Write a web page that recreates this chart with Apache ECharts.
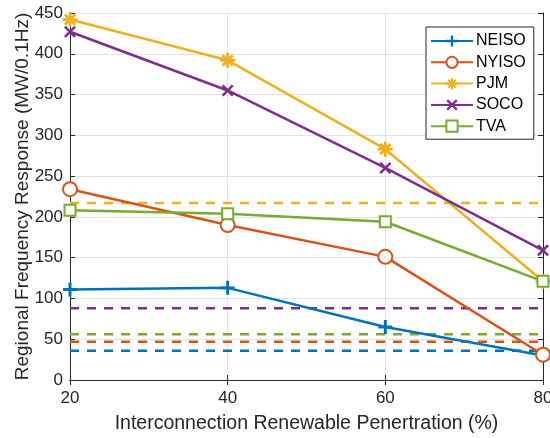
<!DOCTYPE html>
<html><head><meta charset="utf-8">
<script src="https://cdn.jsdelivr.net/npm/echarts@6/dist/echarts.min.js"></script>
<style>html,body{margin:0;padding:0;background:#fff}#c{width:550px;height:438px}</style>
</head><body><div id="c"></div>
<script>
const penetration = [20, 40, 60, 80];
const seriesNames = ['NEISO', 'NYISO', 'PJM', 'SOCO', 'TVA'];
const neiso = [111, 113, 65, 30];
const nyiso = [234, 190, 151, 31];
const pjm = [442, 392, 283, 121];
const soco = [427, 355, 260, 159];
const tva = [208, 204, 194, 121];
const thresholds = [36, 47, 217, 88, 56];
const yTicks = [0, 50, 100, 150, 200, 250, 300, 350, 400, 450];
const xTicks = [20, 40, 60, 80];

const colors = ['#0072BD', '#D95319', '#EDB120', '#7E2F8E', '#77AC30'];
const values = [neiso, nyiso, pjm, soco, tva];
const plusPath = 'path://M4.75,0H7.25V4.75H12V7.25H7.25V12H4.75V7.25H0V4.75H4.75Z';
const xPath = 'path://M0,1.8L1.8,0L12,10.2L10.2,12Z M10.2,0L12,1.8L1.8,12L0,10.2Z';
const starPath = 'path://M4.9,0H7.1V4.9H12V7.1H7.1V12H4.9V7.1H0V4.9H4.9Z M1.1,2.7L2.7,1.1L10.9,9.3L9.3,10.9Z M9.3,1.1L10.9,2.7L2.7,10.9L1.1,9.3Z';
const symbols = [plusPath, 'emptyCircle', starPath, xPath, 'emptyRect'];
const sizes = [14, 14, 15, 12, 11];

const series = [];
seriesNames.forEach((n, i) => {
  series.push({
    name: n, type: 'line',
    data: penetration.map((x, k) => [x, values[i][k]]),
    symbol: symbols[i], symbolSize: sizes[i],
    lineStyle: {color: colors[i], width: 2.5},
    itemStyle: {color: colors[i], borderColor: colors[i], borderWidth: (i === 1 || i === 4) ? 2.5 : 0},
    z: 5, animation: false
  });
});
seriesNames.forEach((n, i) => {
  series.push({
    name: n + ' limit', type: 'line',
    data: [[penetration[0], thresholds[i]], [penetration[penetration.length - 1], thresholds[i]]],
    symbol: 'none',
    lineStyle: {color: colors[i], width: 2.5, type: [9, 8]},
    z: 3, animation: false
  });
});

const axisColor = '#262626';
const font = 'Liberation Sans, Arial, sans-serif';
const chart = echarts.init(document.getElementById('c'));
chart.setOption({
  animation: false,
  grid: {left: 70, right: 7, top: 13, bottom: 58, outerBoundsMode: 'none', containLabel: false},
  legend: {
    data: seriesNames, orient: 'vertical', left: 426, top: 27,
    backgroundColor: '#fff', borderColor: axisColor, borderWidth: 1,
    padding: [6, 8, 5, 4], itemWidth: 42, itemHeight: 14, itemGap: 5.3,
    textStyle: {fontFamily: font, fontSize: 16, color: '#000', padding: [0, 0, 0, -2]}
  },
  xAxis: [{
    type: 'value', min: 20, max: 80, interval: 20,
    name: 'Interconnection Renewable Penertration (%)', nameLocation: 'middle', nameGap: 34,
    nameMoveOverlap: false,
    nameTextStyle: {fontFamily: font, fontSize: 19.5, color: axisColor},
    axisLine: {show: true, lineStyle: {color: axisColor, width: 1}},
    axisTick: {show: true, inside: true, length: 5, lineStyle: {color: axisColor}},
    axisLabel: {fontFamily: font, fontSize: 17, color: axisColor, margin: 10,
      formatter: v => xTicks.includes(v) ? String(v) : ''},
    splitLine: {show: true, lineStyle: {color: '#e3e3e3', width: 1}}
  }, {
    type: 'value', min: 20, max: 80, interval: 20, position: 'top',
    axisLine: {show: true, lineStyle: {color: axisColor, width: 1}},
    axisTick: {show: true, inside: true, length: 5, lineStyle: {color: axisColor}},
    axisLabel: {show: false}, splitLine: {show: false}
  }],
  yAxis: [{
    type: 'value', min: 0, max: 450, interval: 50,
    name: 'Regional Frequency Response (MW/0.1Hz)', nameLocation: 'middle', nameGap: 38,
    nameMoveOverlap: false,
    nameTextStyle: {fontFamily: font, fontSize: 19, color: axisColor},
    axisLine: {show: true, lineStyle: {color: axisColor, width: 1}},
    axisTick: {show: true, inside: true, length: 5, lineStyle: {color: axisColor}},
    axisLabel: {fontFamily: font, fontSize: 17, color: axisColor, margin: 7,
      formatter: v => yTicks.includes(v) ? String(v) : ''},
    splitLine: {show: true, lineStyle: {color: '#e3e3e3', width: 1}}
  }, {
    type: 'value', min: 0, max: 450, interval: 50, position: 'right',
    axisLine: {show: true, lineStyle: {color: axisColor, width: 1}},
    axisTick: {show: true, inside: true, length: 5, lineStyle: {color: axisColor}},
    axisLabel: {show: false}, splitLine: {show: false}
  }],
  series: series
});
</script></body></html>
